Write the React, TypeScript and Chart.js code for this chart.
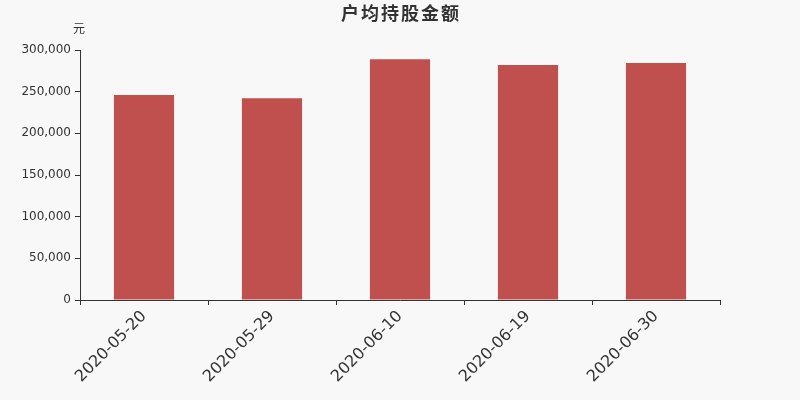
import React, { useEffect, useRef } from "react";
import { Chart, registerables } from "chart.js";

Chart.register(...registerables);

const categories = ["2020-05-20", "2020-05-29", "2020-06-10", "2020-06-19", "2020-06-30"];
const values = [246000, 242000, 288800, 282000, 284400];
const titleText = "户均持股金额";
const unitText = "元";

const textPlugin = {
  id: "textPlugin",
  afterDraw(chart: any) {
    const ctx = chart.ctx;
    ctx.save();
    ctx.fillStyle = "#333";
    ctx.textAlign = "center";
    ctx.textBaseline = "middle";
    ctx.font = "bold 18px 'Noto Sans CJK SC', 'DejaVu Sans', sans-serif";
    (ctx as any).letterSpacing = "2px";
    ctx.fillText(titleText, 401, 13);
    (ctx as any).letterSpacing = "0px";
    ctx.font = "12px 'Noto Sans CJK SC', 'DejaVu Sans', sans-serif";
    ctx.fillText(unitText, 79, 28);
    ctx.restore();
  },
};

const bgPlugin = {
  id: "bgPlugin",
  beforeDraw(chart: any) {
    const ctx = chart.ctx;
    ctx.save();
    ctx.fillStyle = "#f8f8f8";
    ctx.fillRect(0, 0, chart.width, chart.height);
    ctx.restore();
  },
};

export default function App() {
  const ref = useRef<HTMLCanvasElement>(null);
  useEffect(() => {
    document.body.style.margin = "0";
    document.body.style.background = "#f8f8f8";
    const chart = new Chart(ref.current!, {
      type: "bar",
      data: {
        labels: categories,
        datasets: [
          {
            data: values,
            backgroundColor: "#c0504d",
            borderWidth: 0,
            barPercentage: 0.47,
            categoryPercentage: 1,
          },
        ],
      },
      options: {
        animation: false,
        responsive: false,
        maintainAspectRatio: false,
        layout: { padding: { top: 50, right: 80, left: 0, bottom: 0 } },
        plugins: {
          legend: { display: false },
          title: { display: false },
          tooltip: { enabled: false },
        },
        scales: {
          x: {
            grid: { drawOnChartArea: false, drawTicks: true, tickLength: 5, color: "#333", offset: true },
            border: { color: "#333", width: 1 },
            ticks: {
              color: "#333",
              font: { family: "'DejaVu Sans', sans-serif", size: 16 },
              maxRotation: 45,
              minRotation: 45,
              padding: 2,
            },
            afterFit(scale: any) {
              scale.height = 100;
            },
          },
          y: {
            min: 0,
            max: 300000,
            grid: { drawOnChartArea: false, drawTicks: true, tickLength: 5, color: "#333" },
            border: { color: "#333", width: 1 },
            ticks: {
              stepSize: 50000,
              color: "#333",
              padding: 4,
              font: { family: "'DejaVu Sans', sans-serif", size: 12 },
              callback: (v: any) => Number(v).toLocaleString("en-US"),
            },
            afterFit(scale: any) {
              scale.width = 80;
            },
          },
        },
      },
      plugins: [bgPlugin, textPlugin],
    });
    return () => chart.destroy();
  }, []);
  return (
    <div style={{ width: 800, height: 400, background: "#f8f8f8" }}>
      <canvas ref={ref} width={800} height={400} style={{ display: "block" }} />
    </div>
  );
}
